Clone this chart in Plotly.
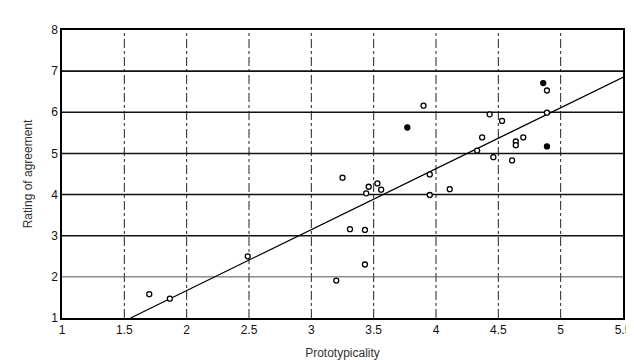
import plotly.graph_objects as go

# Data
proto = [1.70, 1.865, 2.49, 3.20, 3.25, 3.31, 3.43, 3.43, 3.44, 3.46, 3.53, 3.56,
         3.77, 3.90, 3.95, 3.95, 4.11, 4.33, 4.37, 4.43, 4.46, 4.53, 4.61, 4.64,
         4.64, 4.70, 4.86, 4.89, 4.89, 4.89]
agree = [1.58, 1.47, 2.50, 1.91, 4.41, 3.16, 3.14, 2.30, 4.03, 4.19, 4.27, 4.12,
         5.63, 6.16, 4.49, 3.99, 4.13, 5.07, 5.39, 5.95, 4.91, 5.79, 4.83, 5.29,
         5.20, 5.39, 6.71, 6.53, 5.99, 5.17]
filled = [False, False, False, False, False, False, False, False, False, False, False, False,
          True, False, False, False, False, False, False, False, False, False, False, False,
          False, False, True, False, False, True]

fit_x = [1.55, 5.5]
fit_y = [1.0, 6.85]

x_ticks = [1, 1.5, 2, 2.5, 3, 3.5, 4, 4.5, 5, 5.5]
x_tick_text = ["1", "1.5", "2", "2.5", "3", "3.5", "4", "4.5", "5", "5.5"]
y_ticks = [1, 2, 3, 4, 5, 6, 7, 8]

fig = go.Figure()

# vertical grid lines (dash-dot)
for xv in x_ticks[1:-1]:
    fig.add_shape(type="line", x0=xv, x1=xv, y0=1, y1=8, xref="x", yref="y",
                  line=dict(color="#222", width=1, dash="dashdot"), layer="below")
# horizontal grid lines
for yv in y_ticks[1:-1]:
    fig.add_shape(type="line", x0=1, x1=5.5, y0=yv, y1=yv, xref="x", yref="y",
                  line=dict(color="#111" if yv != 2 else "#555", width=1.6 if yv != 2 else 1),
                  layer="below")

fig.add_trace(go.Scatter(x=fit_x, y=fit_y, mode="lines",
                         line=dict(color="black", width=1.2), showlegend=False))

fig.add_trace(go.Scatter(
    x=proto, y=agree, mode="markers",
    marker=dict(size=5, color=["black" if f else "white" for f in filled],
                line=dict(color="black", width=1.3), symbol="circle"),
    showlegend=False))

fig.update_layout(
    width=634, height=360,
    margin=dict(l=54, r=10, t=22, b=48),
    paper_bgcolor="white", plot_bgcolor="white",
    font=dict(family="Liberation Sans, Arial, sans-serif", color="#111", size=12),
    xaxis=dict(range=[1, 5.5], tickvals=x_ticks, ticktext=x_tick_text,
               showgrid=False, zeroline=False, showline=True, linecolor="black",
               linewidth=1.5, mirror=True, ticks="", ticklen=0,
               title=dict(text="Prototypicality", font=dict(size=12, color="#333"), standoff=12)),
    yaxis=dict(range=[1, 8], tickvals=y_ticks, showgrid=False, zeroline=False,
               showline=True, linecolor="black", linewidth=1.5, mirror=True, ticks="",
               title=dict(text="Rating of agreement", font=dict(size=12, color="#333"), standoff=16)),
)

fig.write_html("out.html")
